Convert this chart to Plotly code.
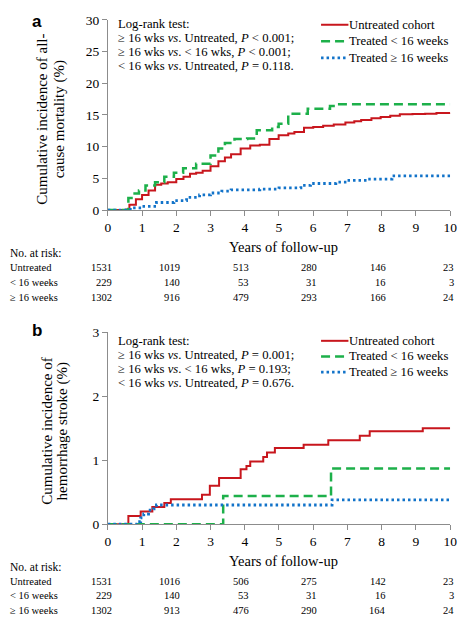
import plotly.graph_objects as go

# The page body keeps its default 8px margin, so the figure is sized so that
# figure + margins fill the 472x629 window exactly.
OFF = 8
WIN_W, WIN_H = 472, 629
W, H = WIN_W - 2 * OFF, WIN_H - 2 * OFF

# ---------------- data ----------------
years_ticks = [0, 2, 4, 6, 8, 10]
group_names = ["Untreated cohort", "Treated &lt; 16 weeks", "Treated \u2265 16 weeks"]
risk_labels = ["Untreated", "&lt; 16 weeks", "\u2265 16 weeks"]

# Panel a: all-cause mortality (%)
a_untreated_t = [0, 0.54, 0.63, 0.82, 1.0, 1.19, 1.38, 1.56, 1.75, 2.0, 2.21, 2.4, 2.58, 2.77, 3.0, 3.23,
                 3.42, 3.6, 3.88, 4.16, 4.44, 4.72, 4.99, 5.27, 5.45, 5.73, 6.0, 6.29, 6.6, 6.94, 7.2, 7.4,
                 7.7, 7.97, 8.25, 8.53, 8.9, 9.27, 9.6, 10.0]
a_untreated_v = [0, 0.1, 0.86, 1.7, 2.4, 3.1, 4.0, 4.2, 4.4, 4.9, 5.25, 5.75, 5.9, 6.2, 6.9, 7.7,
                 8.3, 8.8, 9.7, 10.2, 10.3, 11.2, 11.8, 12.1, 12.3, 13.0, 13.1, 13.3, 13.5, 13.8, 14.0, 14.2,
                 14.5, 14.7, 14.9, 15.1, 15.15, 15.2, 15.3, 15.35]
a_lt16_t = [0, 0.54, 0.6, 0.73, 0.91, 1.1, 1.38, 1.65, 1.93, 2.2, 2.58, 3.0, 3.23, 3.42, 3.7, 4.07,
            4.35, 4.8, 4.99, 5.27, 5.84, 6.49, 6.68, 10.0]
a_lt16_v = [0, 0, 1.9, 2.6, 3.1, 3.9, 4.4, 5.25, 5.9, 6.6, 7.3, 8.6, 9.7, 10.6, 11.2, 11.3,
            12.6, 13.1, 13.6, 15.2, 16.0, 16.4, 16.7, 16.7]
a_ge16_t = [0, 0.54, 0.73, 1.0, 1.28, 1.42, 1.93, 2.3, 2.68, 3.0, 3.33, 3.6, 4.44, 5.0, 5.64, 5.92,
            6.66, 7.0, 7.57, 8.3, 10.0]
a_ge16_v = [0, 0.1, 0.35, 0.6, 0.6, 1.2, 1.5, 2.0, 2.4, 2.7, 3.0, 3.2, 3.3, 3.5, 3.9, 4.2,
            4.4, 4.7, 4.9, 5.4, 5.5]
a_risk = [[1531, 1019, 513, 280, 146, 23],
          [229, 140, 53, 31, 16, 3],
          [1302, 916, 479, 293, 166, 24]]

# Panel b: hemorrhage stroke (%)
b_untreated_t = [0, 0.6, 0.96, 1.3, 1.65, 1.84, 2.75, 2.98, 3.25, 3.88, 4.05, 4.16, 4.54, 4.65, 4.88,
                 5.72, 6.44, 7.36, 7.65, 9.2, 10.0]
b_untreated_v = [0, 0.13, 0.2, 0.27, 0.33, 0.39, 0.46, 0.6, 0.72, 0.86, 0.91, 0.98, 1.05, 1.12, 1.19,
                 1.24, 1.31, 1.38, 1.45, 1.5, 1.5]
b_lt16_t = [0, 3.37, 6.52, 10.0]
b_lt16_v = [0, 0.44, 0.87, 0.87]
b_ge16_t = [0, 0.86, 0.96, 1.05, 1.19, 1.33, 1.42, 6.55, 10.0]
b_ge16_v = [0, 0.04, 0.1, 0.16, 0.22, 0.24, 0.30, 0.38, 0.38]
b_risk = [[1531, 1016, 506, 275, 142, 23],
          [229, 140, 53, 31, 16, 3],
          [1302, 913, 476, 290, 164, 24]]

logrank_a = ["Log-rank test:",
             "\u2265 16 wks <i>vs</i>. Untreated, <i>P</i> &lt; 0.001;",
             "\u2265 16 wks <i>vs</i>. &lt; 16 wks, <i>P</i> &lt; 0.001;",
             "&lt; 16 wks <i>vs</i>. Untreated, <i>P</i> = 0.118."]
logrank_b = ["Log-rank test:",
             "\u2265 16 wks <i>vs</i>. Untreated, <i>P</i> = 0.001;",
             "\u2265 16 wks <i>vs</i>. &lt; 16 wks, <i>P</i> = 0.193;",
             "&lt; 16 wks <i>vs</i>. Untreated, <i>P</i> = 0.676."]

# ---------------- styling ----------------
SERIF = "Liberation Serif, Times New Roman, serif"
RED, GREEN, BLUE = "#C8161D", "#1DB04A", "#1273C9"
styles = [dict(color=RED, width=2),
          dict(color=GREEN, width=2.5, dash="9px,5px"),
          dict(color=BLUE, width=2.8, dash="2.5px,3px")]


def px(x):  # window pixel -> paper fraction
    return (x - OFF) / W


def py(y):
    return 1 - (y - OFF) / H


fig = go.Figure()

panels = [
    dict(xa="x", ya="y",
         series=[(a_untreated_t, a_untreated_v), (a_lt16_t, a_lt16_v), (a_ge16_t, a_ge16_v)]),
    dict(xa="x2", ya="y2",
         series=[(b_untreated_t, b_untreated_v), (b_lt16_t, b_lt16_v), (b_ge16_t, b_ge16_v)]),
]
for p in panels:
    for name, (t, v), st in zip(group_names, p["series"], styles):
        fig.add_trace(go.Scatter(x=t, y=v, mode="lines", name=name, line=dict(shape="hv", **st),
                                 xaxis=p["xa"], yaxis=p["ya"], showlegend=False))

axis_common = dict(showline=True, linecolor="#8c8c8c", linewidth=1, ticks="outside", ticklen=5,
                   tickcolor="#8c8c8c", showgrid=False, zeroline=False,
                   tickfont=dict(family=SERIF, size=13.5, color="black"))

# pixel geometry (window coordinates)
X0, X1 = 107, 457
A_TOP, A_BOT = 13, 208
B_TOP, B_BOT = 333, 530

fig.update_layout(
    width=W, height=H, margin=dict(l=0, r=0, t=0, b=0),
    paper_bgcolor="white", plot_bgcolor="white", showlegend=False,
    xaxis=dict(domain=[px(X0), px(X1)], range=[0, 10], dtick=1, anchor="y", **axis_common),
    yaxis=dict(domain=[py(A_BOT), py(A_TOP)], range=[0, 30], dtick=5, anchor="x", **axis_common),
    xaxis2=dict(domain=[px(X0), px(X1)], range=[0, 10], dtick=1, anchor="y2", **axis_common),
    yaxis2=dict(domain=[py(B_BOT), py(B_TOP)], range=[0, 3], dtick=1, anchor="x2", **axis_common),
)

ann = []
shapes = []


def text(x, y, s, size, xanchor="left", xref="paper", angle=0, family=SERIF, xshift=0):
    ann.append(dict(x=x, y=y, xref=xref, yref="paper", text=s, showarrow=False, xanchor=xanchor,
                    yanchor="middle", textangle=angle, xshift=xshift,
                    font=dict(family=family, size=size, color="black")))


# panel letters
text(px(27), py(15), "<b>a</b>", 17, family="Liberation Sans, Arial, sans-serif")
text(px(27), py(331), "<b>b</b>", 17, family="Liberation Sans, Arial, sans-serif")

# y-axis titles (two lines each)
text(px(40), py(115), "Cumulative incidence of all-", 15, xanchor="center", angle=-90)
text(px(57), py(115), "cause mortality (%)", 15, xanchor="center", angle=-90)
text(px(44), py(435), "Cumulative incidence of", 15, xanchor="center", angle=-90)
text(px(61), py(435), "hemorrhage stroke (%)", 15, xanchor="center", angle=-90)

# log-rank annotations
for i, s in enumerate(logrank_a):
    text(px(115), py(17 + 14.5 * i), s, 12.7)
for i, s in enumerate(logrank_b):
    text(px(115), py(342 + 14.5 * i), s, 12.7)

# manual legends
for rows_y in ([18, 35, 52], [342, 358, 374]):
    for name, st, yy in zip(group_names, styles, rows_y):
        shapes.append(dict(type="line", xref="paper", yref="paper", x0=px(325), x1=px(353),
                           y0=py(yy), y1=py(yy), line=dict(**st)))
        text(px(352), py(yy), name, 12.7)

# x titles + risk tables
for base, risk, xref, step in [(A_BOT, a_risk, "x", 15.5), (B_BOT, b_risk, "x2", 14.5)]:
    text(px(287), py(base + 38), "Years of follow-up", 14.5, xanchor="center")
    text(px(5), py(base + 44), "No. at risk:", 11.5)
    for r, (lab, row) in enumerate(zip(risk_labels, risk)):
        yy = py(base + 59 + step * r)
        text(px(5), yy, lab, 10.5)
        for t, n in zip(years_ticks, row):
            text(t, yy, str(n), 10.5, xanchor="right", xref=xref, xshift=6)

fig.update_layout(annotations=ann, shapes=shapes)
fig.write_html("out.html")
